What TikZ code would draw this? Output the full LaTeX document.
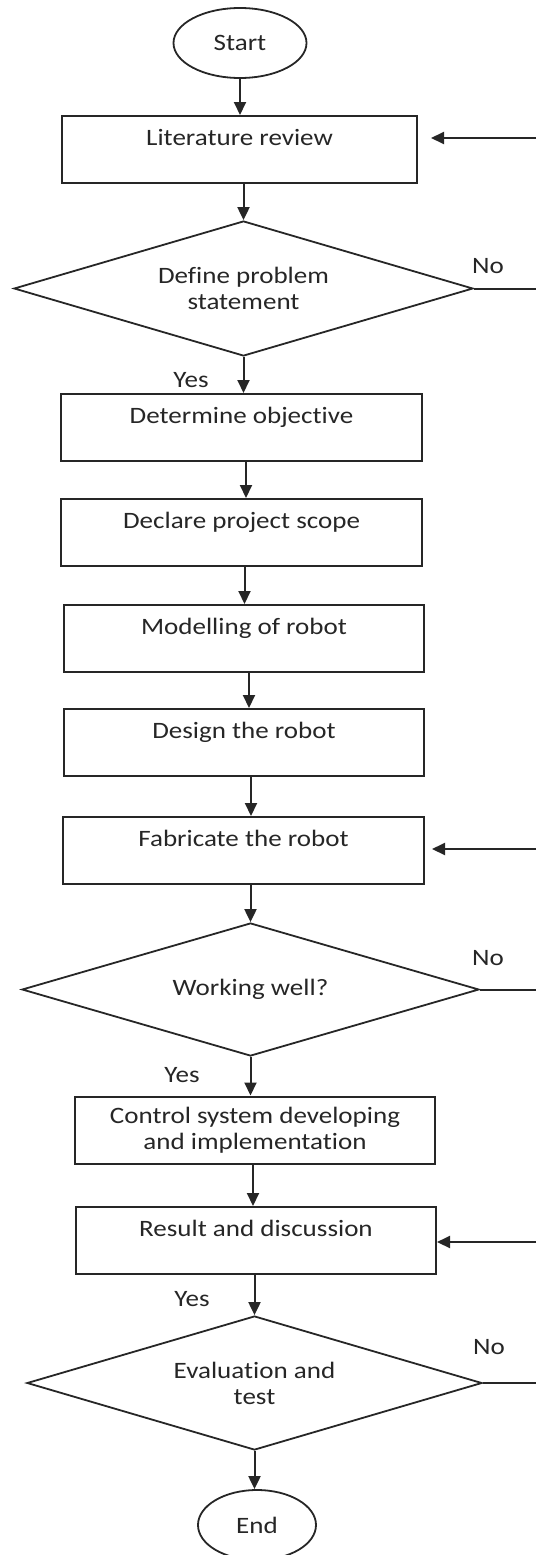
\documentclass[tikz,border=0pt]{standalone}
\usepackage{fontspec}
\setmainfont{Carlito}[FakeStretch=1.15, Ligatures=NoCommon]
\usetikzlibrary{shapes.geometric,arrows.meta}

\begin{document}
\begin{tikzpicture}[x=1pt,y=-1pt,
  every node/.style={font=\fontsize{23.5}{26}\selectfont, text=black!85},
  line/.style={draw=black!85, line width=2pt},
  procbox/.style={line, rectangle, minimum width=360pt, inner xsep=0pt, inner ysep=0pt,
                  text height=29pt, text depth=38pt, anchor=north},
  twolinebox/.style={line, rectangle, minimum width=360pt, minimum height=67pt,
                     inner sep=0pt, align=center},
  decision/.style={line, diamond, shape aspect=3.4, inner sep=0pt, align=center, line width=1.8pt},
  terminal/.style={line, ellipse, inner sep=0pt, line width=1.8pt},
  flow/.style={line, -{Triangle[width=12pt,length=13pt]}},
  tag/.style={inner sep=0pt}
]
\useasboundingbox (0,0) rectangle (536,1555);
\clip (0,0) rectangle (536,1555);

% main column
\node[terminal, minimum width=133pt, minimum height=70pt] (start) at (240,43) {Start};
\node[procbox, minimum width=355pt] (lit) at (239.5,115) {Literature review};
\node[decision, minimum width=459pt, minimum height=135pt] (d1) at (243.5,288.5) {Define problem\\statement};
\node[procbox, minimum width=361pt] (obj) at (241.5,393) {Determine objective};
\node[procbox, minimum width=361pt] (scope) at (241.5,498) {Declare project scope};
\node[procbox] (model) at (244,604) {Modelling of robot};
\node[procbox] (design) at (244,708) {Design the robot};
\node[procbox, minimum width=361pt] (fab) at (243.5,816) {Fabricate the robot};
\node[decision, minimum width=457pt, minimum height=133pt] (d2) at (250.5,989.5) {Working well?};
\node[twolinebox] (ctrl) at (255,1130) {Control system developing\\and implementation};
\node[procbox] (res) at (256,1206) {Result and discussion};
\node[decision, minimum width=455pt, minimum height=134pt] (d3) at (254.5,1383) {Evaluation and\\test};
\node[terminal, minimum width=118pt, minimum height=70pt] (stop) at (257,1525) {End};

% branch labels
\node[tag] (y1) at (191,380) {Yes};
\node[tag] (n1) at (488,266) {No};
\node[tag] (y2) at (182,1075) {Yes};
\node[tag] (n2) at (488,958) {No};
\node[tag] (y3) at (192,1299) {Yes};
\node[tag] (n3) at (489,1347) {No};

% downward flow
\draw[flow] (start.south) -- (start.south |- lit.north);
\draw[flow] (d1.north |- lit.south) -- (d1.north);
\draw[flow] (d1.south) -- (d1.south |- obj.north);
\draw[flow] ([xshift=4.5pt]obj.south) -- ([xshift=4.5pt]obj.south |- scope.north);
\draw[flow] ([xshift=3pt]scope.south) -- ([xshift=3pt]scope.south |- model.north);
\draw[flow] ([xshift=5pt]model.south) -- ([xshift=5pt]model.south |- design.north);
\draw[flow] ([xshift=7pt]design.south) -- ([xshift=7pt]design.south |- fab.north);
\draw[flow] (d2.north |- fab.south) -- (d2.north);
\draw[flow] (d2.south) -- (d2.south |- ctrl.north);
\draw[flow] ([xshift=-2pt]ctrl.south) -- ([xshift=-2pt]ctrl.south |- res.north);
\draw[flow] (d3.north |- res.south) -- (d3.north);
\draw[flow] (d3.south) -- (d3.south |- stop.north);

% "No" branches leaving to the right and loop-back arrows
\coordinate (r1) at (536,138);
\coordinate (r2) at (536,849);
\coordinate (r3) at (536,1242);
\draw[line] (d1.east) -- (d1.east -| r1);
\draw[line] (d2.east) -- (d2.east -| r2);
\draw[line] (d3.east) -- (d3.east -| r3);
\draw[flow, shorten >=13pt] (r1) -- (r1 -| lit.east);
\draw[flow, shorten >=7pt] (r2) -- (r2 -| fab.east);
\draw[flow] (r3) -- (r3 -| res.east);
\end{tikzpicture}
\end{document}
